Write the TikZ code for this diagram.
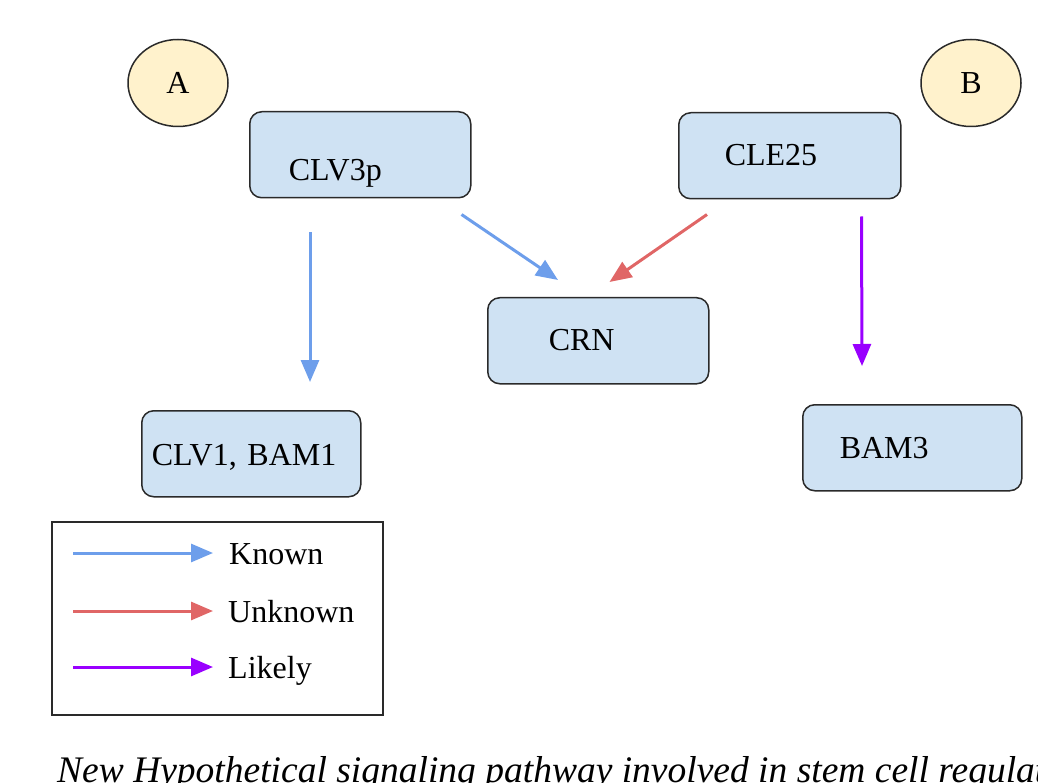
\documentclass[tikz,border=0pt]{standalone}
\usepackage{fontspec}
\setmainfont{Liberation Serif}
\usetikzlibrary{calc, positioning, arrows.meta, shapes.geometric}

\definecolor{boxblue}{HTML}{CFE2F3}
\definecolor{markyellow}{HTML}{FFF2CC}
\definecolor{knownblue}{HTML}{6D9EEB}
\definecolor{unknownred}{HTML}{E06666}
\definecolor{likelypurple}{HTML}{9900FF}
\definecolor{edgegray}{HTML}{2A2A2A}

\tikzset{
  genebox/.style n args={3}{draw=edgegray, line width=1.5pt, fill=boxblue,
    rounded corners=12pt, anchor=north west, align=left,
    font=\fontsize{32}{38}\selectfont, minimum height=86pt, inner ysep=0pt,
    text width=#1, inner xsep=#2, text height=#3, text depth=0pt},
  marker/.style={ellipse, draw=edgegray, line width=1.5pt, fill=markyellow,
    minimum width=100pt, minimum height=87pt, inner sep=0pt,
    font=\fontsize{32}{38}\selectfont},
  legendbox/.style={draw=edgegray, line width=1.5pt, anchor=north west,
    minimum width=331pt, minimum height=193pt, inner sep=0pt},
  legendtext/.style={anchor=base west, inner sep=0pt, text height=22pt,
    text depth=0pt, font=\fontsize{32}{38}\selectfont},
  known/.style={draw=knownblue, line width=3pt, -{Triangle[length=22pt,width=18pt]}},
  unknown/.style={draw=unknownred, line width=3pt, -{Triangle[length=22pt,width=18pt]}},
  likely/.style={draw=likelypurple, line width=3pt, -{Triangle[length=22pt,width=18pt]}}
}

\begin{document}
\begin{tikzpicture}[x=1pt, y=-1pt]
  \useasboundingbox (0,0) rectangle (1038,783);

  % markers
  \node[marker] (markA) at (178,83) {A};
  \node[marker] (markB) at (971,83) {B};

  % peptides and receptors
  \node[genebox={143pt}{39pt}{51pt}] (clv3p) at (249,111) {CLV3p};
  \node[genebox={130pt}{46pt}{20pt}] (cle25) at (678,112) {CLE25};
  \node[genebox={99pt}{61pt}{20pt}] (crn) at (487,297) {CRN};
  \node[genebox={199pt}{10pt}{23pt}] (clv1) at (141,410) {CLV1, BAM1};
  \node[genebox={145pt}{37pt}{22pt}] (bam3) at (802,404) {BAM3};

  % interactions
  \draw[known] ($(clv3p.south west)+(61,34)$) -- ($(clv1.north west)+(169,-28)$);
  \draw[known] ($(clv3p.south east)+(-10,16)$) -- ($(crn.north west)+(71,-17)$);
  \draw[unknown] ($(cle25.south west)+(29,15)$) -- ($(crn.north east)+(-100,-15)$);
  \draw[likely] ($(cle25.south east)+(-40,17)$) -- ($(bam3.north west)+(60,-38)$);

  % legend
  \node[legendbox] (legend) at (51,521) {};
  \node[legendtext] (lknown) at (229,564) {Known};
  \node[legendtext] (lunknown) at (228,622) {Unknown};
  \node[legendtext] (llikely) at (228,678) {Likely};
  \draw[known, shorten >=16pt] ($(lknown.west)+(-156,0)$) -- (lknown.west);
  \draw[unknown, shorten >=15pt] ($(lunknown.west)+(-155,0)$) -- (lunknown.west);
  \draw[likely, shorten >=15pt] ($(llikely.west)+(-155,0)$) -- (llikely.west);

  % caption
  \node[anchor=base west, inner sep=0pt, font=\itshape\fontsize{37.5}{45}\selectfont]
    (caption) at (57,782) {New Hypothetical signaling pathway involved in stem cell regulat};
\end{tikzpicture}
\end{document}
